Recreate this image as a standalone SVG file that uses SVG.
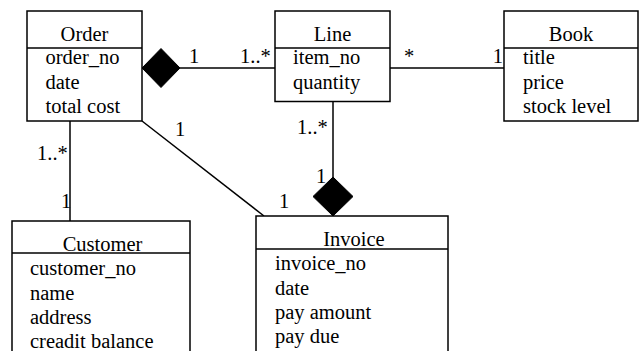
<svg xmlns="http://www.w3.org/2000/svg" width="643" height="351" viewBox="0 0 643 351" font-family="Liberation Serif, Times New Roman, serif" font-size="20.5">
<style>
.box{fill:#fff;stroke:#000;stroke-width:1.5}
.ln{stroke:#000;stroke-width:1.5;fill:none}
.c{text-anchor:middle}
.dia{fill:#000;stroke:#000;stroke-width:1}
</style>
<rect width="643" height="351" fill="#fff"/>
<g id="connectors">
<line class="ln" x1="180" y1="68" x2="275" y2="68"/>
<polygon class="dia" points="142,68 161,48.5 180,68 161,87.5"/>
<line class="ln" x1="390" y1="68" x2="504" y2="68"/>
<line class="ln" x1="333" y1="101.5" x2="333" y2="177"/>
<polygon class="dia" points="333,177 353,196.5 333,216 313,196.5"/>
<line class="ln" x1="70" y1="121" x2="70" y2="221"/>
<line class="ln" x1="142" y1="121" x2="264" y2="216"/>
<text x="189" y="63" font-family="Liberation Serif">1</text>
<text x="240" y="63" font-family="Liberation Serif">1..*</text>
<text x="404" y="63" font-family="Liberation Serif">*</text>
<text x="503" y="63" text-anchor="end" font-family="Liberation Serif">1</text>
<text x="297" y="134" font-family="Liberation Serif">1..*</text>
<text x="316" y="183" font-family="Liberation Serif">1</text>
<text x="37" y="160" font-family="Liberation Serif">1..*</text>
<text x="61" y="208" font-family="Liberation Serif">1</text>
<text x="175" y="136" font-family="Liberation Serif">1</text>
<text x="279" y="208" font-family="Liberation Serif">1</text>
</g>
<g id="order">
<rect class="box" x="27" y="11" width="115" height="110"/>
<line class="ln" x1="27" y1="48" x2="142" y2="48"/>
<text class="c" x="84.5" y="41" font-family="Liberation Serif">Order</text>
<text x="45.5" y="64" font-family="Liberation Serif">order_no</text>
<text x="45.5" y="88.5" font-family="Liberation Serif">date</text>
<text x="45.5" y="113" font-family="Liberation Serif">total cost</text>
</g>
<g id="line">
<rect class="box" x="275" y="11" width="115" height="90.5"/>
<line class="ln" x1="275" y1="48" x2="390" y2="48"/>
<text class="c" x="332.5" y="41" font-family="Liberation Serif">Line</text>
<text x="293" y="64" font-family="Liberation Serif">item_no</text>
<text x="293" y="88.5" font-family="Liberation Serif">quantity</text>
</g>
<g id="book">
<rect class="box" x="504" y="11" width="134" height="110"/>
<line class="ln" x1="504" y1="48" x2="638" y2="48"/>
<text class="c" x="571" y="41" font-family="Liberation Serif">Book</text>
<text x="523" y="64" font-family="Liberation Serif">title</text>
<text x="523" y="88.5" font-family="Liberation Serif">price</text>
<text x="523" y="113" font-family="Liberation Serif">stock level</text>
</g>
<g id="customer">
<rect class="box" x="12" y="221" width="178" height="140"/>
<line class="ln" x1="12" y1="253" x2="190" y2="253"/>
<text class="c" x="102.5" y="251" font-family="Liberation Serif">Customer</text>
<text x="30" y="275" font-family="Liberation Serif">customer_no</text>
<text x="30" y="299.5" font-family="Liberation Serif">name</text>
<text x="30" y="324" font-family="Liberation Serif">address</text>
<text x="30" y="348" font-family="Liberation Serif">creadit balance</text>
</g>
<g id="invoice">
<rect class="box" x="256" y="216" width="192" height="145"/>
<line class="ln" x1="256" y1="249" x2="448" y2="249"/>
<text class="c" x="354" y="246" font-family="Liberation Serif">Invoice</text>
<text x="275" y="270" font-family="Liberation Serif">invoice_no</text>
<text x="275" y="294.5" font-family="Liberation Serif">date</text>
<text x="275" y="318.5" font-family="Liberation Serif">pay amount</text>
<text x="275" y="343" font-family="Liberation Serif">pay due</text>
</g>
</svg>
